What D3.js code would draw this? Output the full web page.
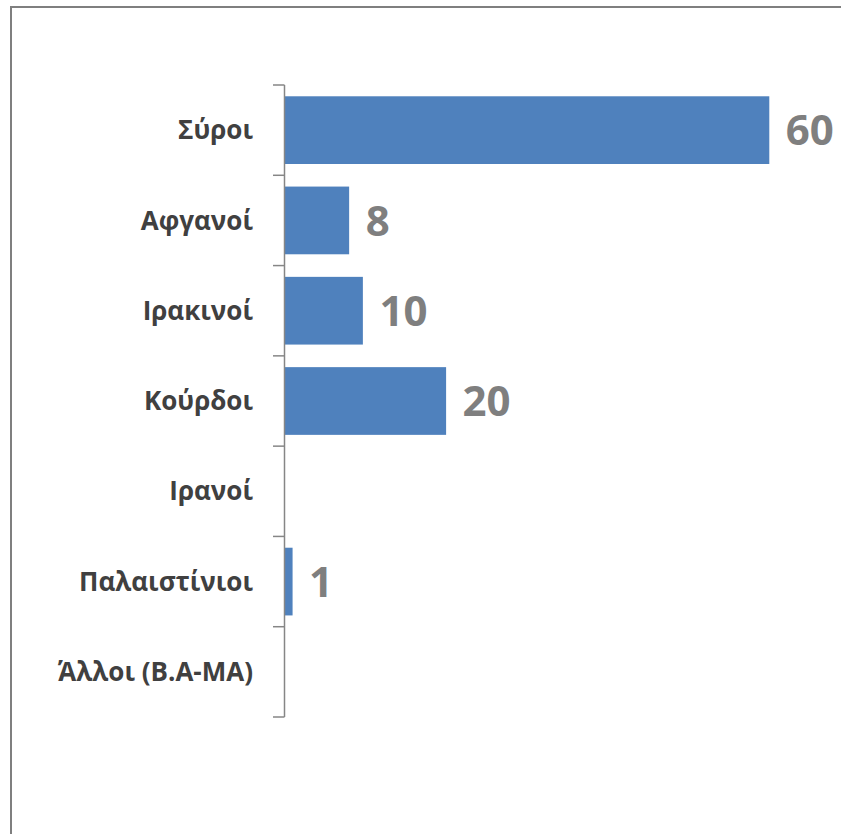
<!DOCTYPE html>
<html><head><meta charset="utf-8">
<script src="https://cdn.jsdelivr.net/npm/d3@7/dist/d3.min.js"></script>
<style>body{margin:0;background:#fff}svg{display:block}</style>
</head><body>
<script>
const categories = ["Σύροι","Αφγανοί","Ιρακινοί","Κούρδοι","Ιρανοί","Παλαιστίνιοι","Άλλοι (Β.Α-ΜΑ)"];
const values = [60, 8, 9.7, 20, 0, 1, 0];

const W = 841, H = 834;
const svg = d3.select("body").append("svg").attr("width", W).attr("height", H);
svg.append("rect").attr("x", 11).attr("y", 7).attr("width", W).attr("height", H)
  .attr("fill", "#fff").attr("stroke", "#7f7f7f").attr("stroke-width", 2);

const x0 = 284.5;
const x = d3.scaleLinear().domain([0, 60]).range([x0, 769.3]);
const y = d3.scaleBand().domain(categories).range([85, 717]).paddingInner(0.25).paddingOuter(0.125);

const g = svg.append("g");
g.selectAll("rect.bar").data(categories).join("rect").attr("class","bar")
  .attr("x", x0 + 0.5).attr("y", d => y(d))
  .attr("width", (d,i) => Math.max(0, x(values[i]) - x0 - 0.5))
  .attr("height", y.bandwidth())
  .attr("fill", "#4f81bd")
  .attr("display", (d,i) => values[i] > 0 ? null : "none");

const boundaries = d3.range(categories.length + 1).map(i => 85 + i * y.step());
g.append("line").attr("x1", x0).attr("x2", x0).attr("y1", 85).attr("y2", 717)
  .attr("stroke", "#868686").attr("stroke-width", 1.5);
g.selectAll("line.tick").data(boundaries).join("line").attr("class","tick")
  .attr("x1", 273).attr("x2", x0).attr("y1", d => d).attr("y2", d => d)
  .attr("stroke", "#868686").attr("stroke-width", 1.5);

g.selectAll("text.cat").data(categories).join("text").attr("class","cat")
  .attr("x", 253).attr("y", d => y(d) + y.bandwidth()/2)
  .attr("dy", "0.35em").attr("text-anchor", "end")
  .attr("font-family", "Open Sans, sans-serif").attr("font-weight", "bold")
  .attr("font-size", 26).attr("fill", "#404040").text(d => d);

g.selectAll("text.val").data(categories).join("text").attr("class","val")
  .attr("x", (d,i) => x(values[i]) + 16.5).attr("y", d => y(d) + y.bandwidth()/2)
  .attr("dy", "0.36em")
  .attr("font-family", "Open Sans, sans-serif").attr("font-weight", "bold")
  .attr("font-size", 42).attr("fill", "#7f7f7f")
  .text((d,i) => values[i] > 0 ? d3.format(".0f")(values[i]) : "");
</script>
</body></html>
